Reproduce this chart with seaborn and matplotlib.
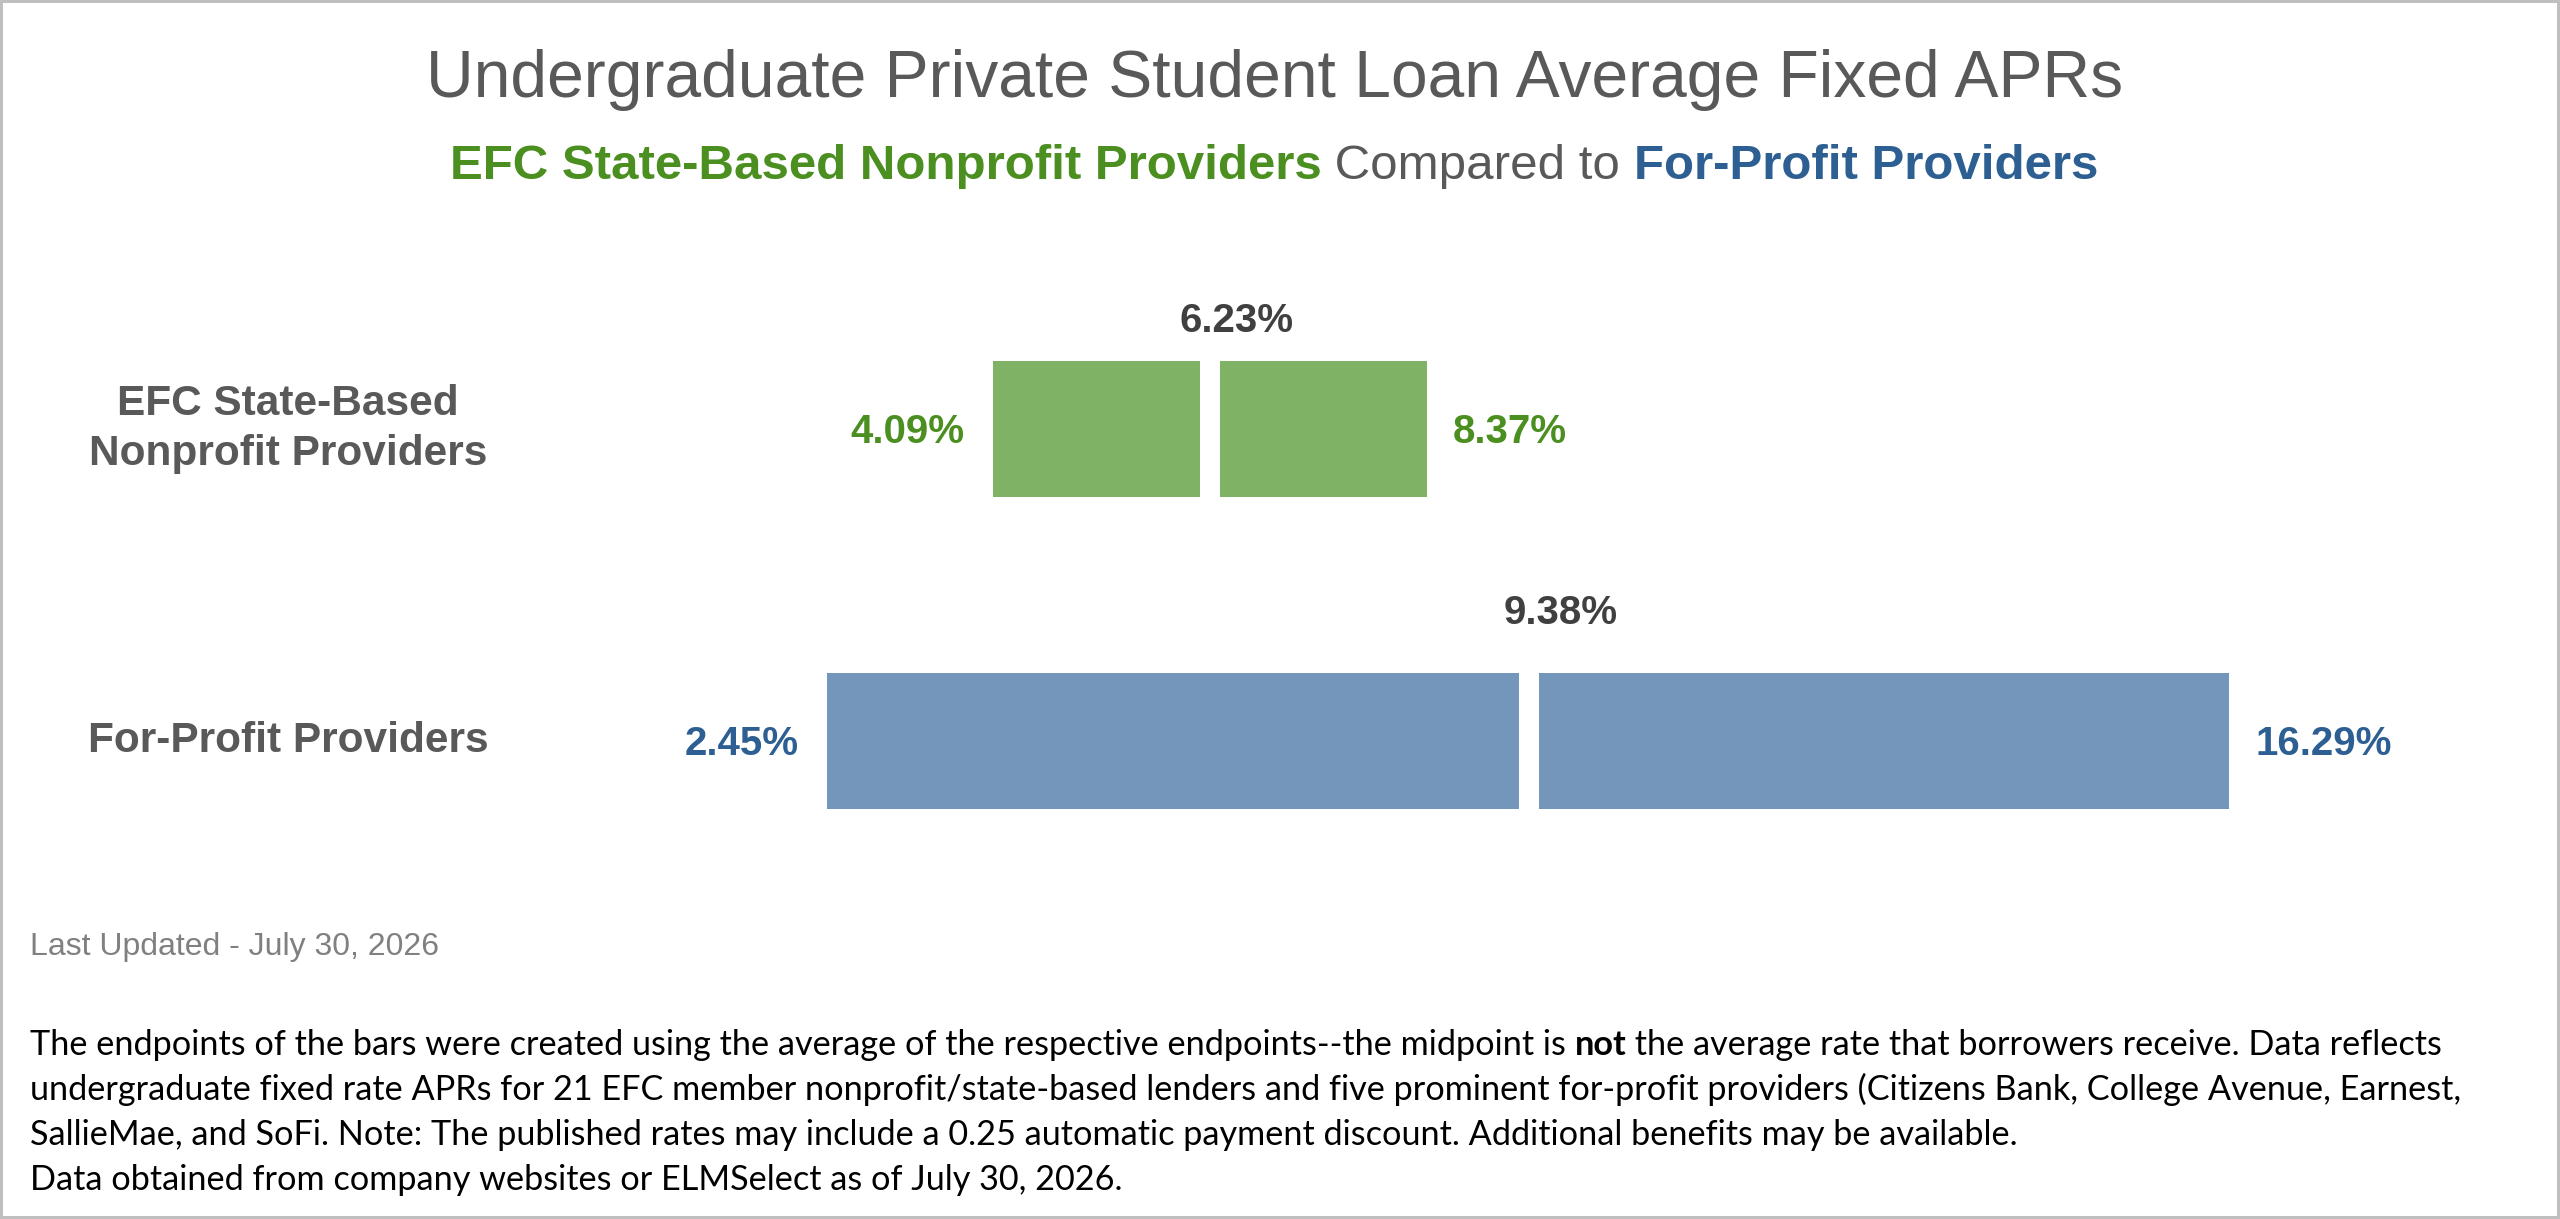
import matplotlib
matplotlib.use("Agg")
import matplotlib.pyplot as plt
import seaborn as sns
import pandas as pd
from matplotlib.patches import Rectangle

# ---------------- data ----------------
categories = ["EFC State-Based\nNonprofit Providers", "For-Profit Providers"]
low_rates = [4.09, 2.45]
mid_rates = [6.23, 9.38]
high_rates = [8.37, 16.29]

title_text = "Undergraduate Private Student Loan Average Fixed APRs"
subtitle_parts = ["EFC State-Based Nonprofit Providers", " Compared to ", "For-Profit Providers"]
updated_text = "Last Updated - July 30, 2026"
note_line1 = ["The endpoints of the bars were created using the average of the respective endpoints--the midpoint is ",
              "not",
              " the average rate that borrowers receive. Data reflects"]
note_lines = [
    "undergraduate fixed rate APRs for 21 EFC member nonprofit/state-based lenders and five prominent for-profit providers (Citizens Bank, College Avenue, Earnest,",
    "SallieMae, and SoFi. Note: The published rates may include a 0.25 automatic payment discount. Additional benefits may be available.",
    "Data obtained from company websites or ELMSelect as of July 30, 2026.",
]

# ---------------- style ----------------
bar_colors = ["#7FB264", "#7396BA"]
text_colors = ["#4A8F1F", "#2D5F92"]
GRAY = "#595959"
MID_GRAY = "#404040"
mid_dx = [19, 23]      # points
mid_dy = [69.8, 84]    # points

sns.set_theme(style="white")
plt.rcParams["font.family"] = ["Liberation Sans", "DejaVu Sans"]

W, H = 2560, 1219
fig = plt.figure(figsize=(W / 100, H / 100), dpi=100)
fig.patch.set_facecolor("white")

x0_px = 578.7
ppu = 101.3
row_px = 312
top_center = 429
ax_top_px = top_center - row_px / 2
ax_h_px = row_px * len(categories)
ax = fig.add_axes([x0_px / W, 1 - (ax_top_px + ax_h_px) / H, (W - x0_px) / W, ax_h_px / H])

GAP = 0.2
for i, cat in enumerate(categories):
    segs = [(low_rates[i], mid_rates[i] - GAP / 2), (mid_rates[i] + GAP / 2, high_rates[i])]
    for s, e in segs:
        df = pd.DataFrame({"category": [cat], "width": [e - s]})
        sns.barplot(data=df, x="width", y="category", order=categories, left=s,
                    color=bar_colors[i], saturation=1, width=0.434, errorbar=None,
                    linewidth=0, ax=ax)

ax.set_xlim(0, (W - x0_px) / ppu)
ax.set_ylim(len(categories) - 0.5, -0.5)
ax.set_xticks([])
ax.set_xlabel("")
ax.set_ylabel("")
for sp in ax.spines.values():
    sp.set_visible(False)
ax.set_facecolor("none")
ax.tick_params(axis="y", length=0, pad=(x0_px - 288) * 72 / 100)
ax.set_yticks(range(len(categories)))
ax.set_yticklabels(categories, fontsize=30.5, fontweight="bold", color=GRAY,
                   ha="center", va="center", linespacing=1.3, multialignment="center")

val_fs = 29
base_off = -0.716 * val_fs / 2
for i in range(len(categories)):
    ax.annotate(f"{low_rates[i]:.2f}%", xy=(low_rates[i], i), xytext=(-20.2, base_off),
                textcoords="offset points", ha="right", va="baseline",
                fontsize=val_fs, fontweight="bold", color=text_colors[i])
    ax.annotate(f"{high_rates[i]:.2f}%", xy=(high_rates[i], i), xytext=(19, base_off),
                textcoords="offset points", ha="left", va="baseline",
                fontsize=val_fs, fontweight="bold", color=text_colors[i])
    ax.annotate(f"{mid_rates[i]:.2f}%", xy=(mid_rates[i], i), xytext=(mid_dx[i], mid_dy[i]),
                textcoords="offset points", ha="center", va="baseline",
                fontsize=val_fs, fontweight="bold", color=MID_GRAY)

# ---------------- texts ----------------
renderer = fig.canvas.get_renderer()


def run_width(txt, kw):
    t = fig.text(0, 0, "|" + txt + "|", **kw)
    w1 = t.get_window_extent(renderer).width
    t.remove()
    t = fig.text(0, 0, "||", **kw)
    w2 = t.get_window_extent(renderer).width
    t.remove()
    return w1 - w2


def draw_runs(x_px, y_px, runs, ha="left"):
    widths = [run_width(txt, kw) for txt, kw in runs]
    total = sum(widths)
    x = x_px - total / 2 if ha == "center" else x_px
    for (txt, kw), w in zip(runs, widths):
        fig.text(x / W, 1 - y_px / H, txt, ha="left", va="baseline", **kw)
        x += w
    return total


fig.text(1275 / W, 1 - 97 / H, title_text, ha="center", va="baseline", fontsize=47.5, color=GRAY)

sub_fs = 35.5
sub_runs = [
    (subtitle_parts[0], dict(fontsize=sub_fs, fontweight="bold", color=text_colors[0])),
    (subtitle_parts[1], dict(fontsize=sub_fs, fontweight="normal", color=GRAY)),
    (subtitle_parts[2], dict(fontsize=sub_fs, fontweight="bold", color=text_colors[1])),
]
draw_runs(1274, 179, sub_runs, ha="center")

fig.text(30 / W, 1 - 955 / H, updated_text, ha="left", va="baseline", fontsize=23, color="#808080")

note_family = ["Lato", "DejaVu Sans"]


def line1_runs(fs):
    return [
        (note_line1[0], dict(fontsize=fs, family=note_family, color="black")),
        (note_line1[1], dict(fontsize=fs, family=note_family, fontweight="bold", color="black")),
        (note_line1[2], dict(fontsize=fs, family=note_family, color="black")),
    ]


base_fs = 24
w_base = sum(run_width(t, k) for t, k in line1_runs(base_fs))
note_fs = base_fs * 2416 / w_base
draw_runs(30, 1055, line1_runs(note_fs))
for j, line in enumerate(note_lines):
    fig.text(30 / W, 1 - (1100 + 45 * j) / H, line, ha="left", va="baseline",
             fontsize=note_fs, family=note_family, color="black")

fig.add_artist(Rectangle((0, 0), 1, 1, transform=fig.transFigure, fill=False,
                         edgecolor="#BFBFBF", linewidth=4.3, zorder=10))

fig.savefig("out.png", dpi=100, facecolor="white")
